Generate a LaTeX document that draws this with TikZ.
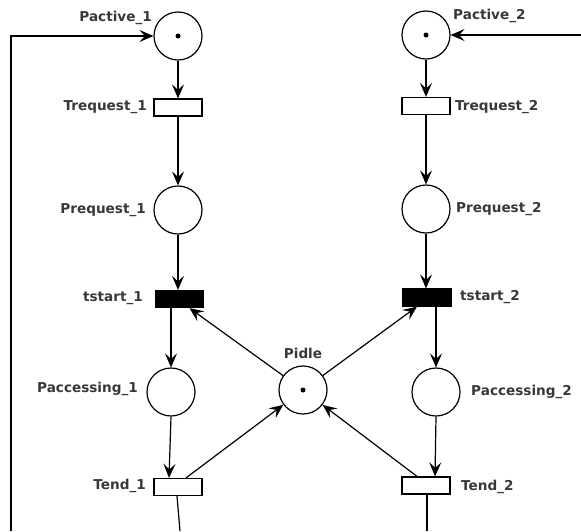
\documentclass[tikz,border=0pt]{standalone}
\usepackage{fontspec}
\setmainfont{DejaVu Sans}
\usetikzlibrary{arrows.meta,calc}
\begin{document}
\begin{tikzpicture}[x=1pt,y=-1pt,
  place/.style={circle,draw,line width=1.2pt,minimum size=48pt,inner sep=0pt},
  trans/.style={rectangle,draw,line width=1.2pt,minimum width=48pt,minimum height=17pt,inner sep=0pt},
  blacktrans/.style={trans,fill=black},
  lbl/.style={font=\bfseries\fontsize{13.6}{15}\selectfont,text=black!78,inner sep=0pt},
  arc/.style={line width=1.2pt,-{Stealth[length=14pt,width=12pt,inset=5.5pt]}},
  plain/.style={line width=1.2pt},
  token/.style={circle,fill=black,minimum size=5pt,inner sep=0pt}]
\useasboundingbox (0,0) rectangle (581,531);
% places
\node[place] (Pactive1) at (178,36) {};
\node[place] (Pactive2) at (426,35) {};
\node[place] (Prequest1) at (178,210) {};
\node[place] (Prequest2) at (426,209) {};
\node[place] (Paccessing1) at (171,392) {};
\node[place] (Paccessing2) at (436,392) {};
\node[place] (Pidle) at (303,390) {};
% tokens
\node[token] (tok1) at (Pactive1) {};
\node[token] (tok2) at (Pactive2) {};
\node[token] (tok3) at (Pidle) {};
% transitions
\node[trans] (Trequest1) at (178,107.5) {};
\node[trans] (Trequest2) at (426,106) {};
\node[blacktrans] (tstart1) at (179.5,299) {};
\node[blacktrans] (tstart2) at (427,297.5) {};
\node[trans] (Tend1) at (178,487) {};
\node[trans] (Tend2) at (426,485.5) {};
% labels
\node[lbl,anchor=east] (lPactive1) at (152,18) {Pactive\_1};
\node[lbl,anchor=west] (lPactive2) at (453,16) {Pactive\_2};
\node[lbl,anchor=east] (lTrequest1) at (147,107) {Trequest\_1};
\node[lbl,anchor=west] (lTrequest2) at (455,107) {Trequest\_2};
\node[lbl,anchor=east] (lPrequest1) at (146,210) {Prequest\_1};
\node[lbl,anchor=west] (lPrequest2) at (456,209) {Prequest\_2};
\node[lbl,anchor=east] (ltstart1) at (143,298) {tstart\_1};
\node[lbl,anchor=west] (ltstart2) at (460,297) {tstart\_2};
\node[lbl,anchor=east] (lPaccessing1) at (138,389) {Paccessing\_1};
\node[lbl,anchor=west] (lPaccessing2) at (471,392) {Paccessing\_2};
\node[lbl] (lPidle) at (303,353) {Pidle};
\node[lbl,anchor=east] (lTend1) at (146,486) {Tend\_1};
\node[lbl,anchor=west] (lTend2) at (461,487) {Tend\_2};
% free ends
\coordinate (bot1) at (180,531);
\coordinate (bot2) at (427,531);
\coordinate (left) at (11,531);
\coordinate (right) at (581,35);
% arcs
\draw[arc] (Pactive1) -- (Trequest1);
\draw[arc] (Pactive2) -- (Trequest2);
\draw[arc] (Trequest1) -- (Prequest1);
\draw[arc] (Trequest2) -- (Prequest2);
\draw[arc] (Prequest1.south) -- (Prequest1.south |- tstart1.north);
\draw[arc] (Prequest2.south) -- (Prequest2.south |- tstart2.north);
\draw[arc] (Paccessing1.north |- tstart1.south) -- (Paccessing1.north);
\draw[arc] (Paccessing2.north |- tstart2.south) -- (Paccessing2.north);
\draw[arc] (Paccessing1.south) -- ([xshift=-2pt]Paccessing1.south |- Tend1.north);
\draw[arc] (Paccessing2.south) -- ([xshift=-1pt]Paccessing2.south |- Tend2.north);
\draw[arc] (Pidle) -- ([xshift=10pt]tstart1.south);
\draw[arc] (Pidle) -- ([xshift=-10pt]tstart2.south);
\draw[arc] ([xshift=8pt]Tend1.north) -- (Pidle);
\draw[arc] ([xshift=-9pt]Tend2.north) -- (Pidle);
\draw[plain] ([xshift=-1pt]Tend1.south) -- (bot1);
\draw[plain] ([xshift=1pt]Tend2.south) -- (bot2);
\draw[arc] (left) |- (Pactive1.west);
\draw[arc] (right) -- (Pactive2.east);
\end{tikzpicture}
\end{document}
